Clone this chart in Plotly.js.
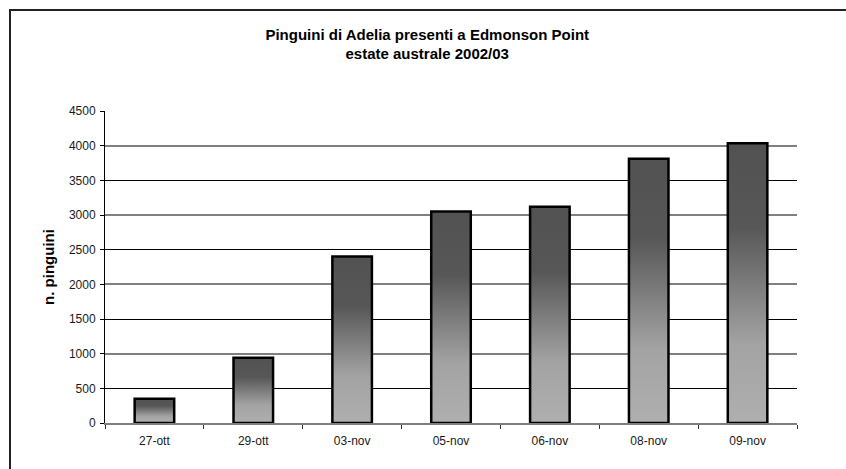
<!DOCTYPE html>
<html>
<head>
<meta charset="utf-8">
<script src="https://cdn.plot.ly/plotly-3.0.1.min.js"></script>
<style>
  html, body { margin: 0; padding: 0; background: #fff; }
  #wrap { position: relative; width: 846px; height: 469px; overflow: hidden; }
  #chart { position: absolute; left: 0; top: 0; width: 846px; height: 469px; }
  #frame { position: absolute; left: 9px; top: 9px; width: 900px; height: 500px;
           border-top: 2px solid #222; border-left: 2px solid #222; pointer-events: none; }
</style>
</head>
<body>
<div id="wrap">
  <div id="chart"></div>
  <div id="frame"></div>
</div>
<script>
// Data
const dates = ['27-ott', '29-ott', '03-nov', '05-nov', '06-nov', '08-nov', '09-nov'];
const penguins = [350, 940, 2400, 3050, 3120, 3810, 4035];
const yTicks = [0, 500, 1000, 1500, 2000, 2500, 3000, 3500, 4000, 4500];
const blackGridValues = [500, 1500, 2500, 3500, 4500];
const grayGridValues = [1000, 2000, 3000, 4000];
const yRange = [0, 4500];

const barTrace = {
  type: 'bar',
  x: dates,
  y: penguins,
  marker: { color: '#7a7a7a', line: { color: '#000', width: 2.5 } },
  hoverinfo: 'x+y'
};
// empty helper trace so the overlay axis (tick labels) is rendered
const axisHelper = { type: 'scatter', x: [], y: [], yaxis: 'y2', hoverinfo: 'skip', showlegend: false };

const layout = {
  width: 846, height: 469,
  margin: { l: 105, r: 49, t: 111, b: 46 },
  paper_bgcolor: '#fff', plot_bgcolor: '#fff',
  font: { family: 'Liberation Sans, Arial, sans-serif', color: '#1a1a1a', size: 12 },
  title: {
    text: '<b>Pinguini di Adelia presenti a Edmonson Point<br>estate australe 2002/03</b>',
    font: { size: 15, color: '#000' },
    x: 0.505, xanchor: 'center', y: 0.915, yanchor: 'top'
  },
  showlegend: false,
  bargap: 0.6,
  xaxis: {
    type: 'category',
    showgrid: false,
    showline: true, linecolor: '#7f7f7f', linewidth: 1.5,
    ticks: 'outside', tickson: 'boundaries', ticklen: 4, tickcolor: '#333', tickwidth: 1,
    tickfont: { size: 12, color: '#1a1a1a' },
    ticklabelstandoff: 6,
    zeroline: false
  },
  yaxis: {
    range: yRange,
    tickmode: 'array', tickvals: blackGridValues,
    showticklabels: false, ticks: '',
    showgrid: true, gridcolor: '#000', gridwidth: 1,
    minor: {
      tickmode: 'array', tickvals: grayGridValues, ticks: '',
      showgrid: true, gridcolor: '#808080', gridwidth: 2
    },
    showline: true, linecolor: '#000', linewidth: 1,
    zeroline: false
  },
  yaxis2: {
    overlaying: 'y', side: 'left', anchor: 'x',
    range: yRange,
    tickmode: 'array', tickvals: yTicks, ticktext: yTicks.map(String),
    showgrid: false, showline: false,
    ticks: 'outside', ticklen: 4, tickcolor: '#000',
    tickfont: { size: 12, color: '#1a1a1a' },
    ticklabelstandoff: 2,
    zeroline: false,
    title: { text: '<b>n. pinguini</b>', font: { size: 15, color: '#000' }, standoff: 10 }
  }
};

Plotly.newPlot('chart', [barTrace, axisHelper], layout, { staticPlot: true, displayModeBar: false }).then(gd => {
  const svg = gd.querySelector('svg.main-svg');
  const NS = 'http://www.w3.org/2000/svg';
  let defs = svg.querySelector('defs');
  if (!defs) { defs = document.createElementNS(NS, 'defs'); svg.insertBefore(defs, svg.firstChild); }
  const grad = document.createElementNS(NS, 'linearGradient');
  grad.setAttribute('id', 'barGrad');
  grad.setAttribute('x1', '0'); grad.setAttribute('y1', '0');
  grad.setAttribute('x2', '0'); grad.setAttribute('y2', '1');
  [[0, '#525252'], [0.3, '#575757'], [0.72, '#a3a3a3'], [1, '#afafaf']].forEach(([o, c]) => {
    const s = document.createElementNS(NS, 'stop');
    s.setAttribute('offset', o); s.setAttribute('stop-color', c);
    grad.appendChild(s);
  });
  defs.appendChild(grad);
  gd.querySelectorAll('.barlayer .point path').forEach(p => { p.style.fill = 'url(#barGrad)'; });
});
</script>
</body>
</html>
